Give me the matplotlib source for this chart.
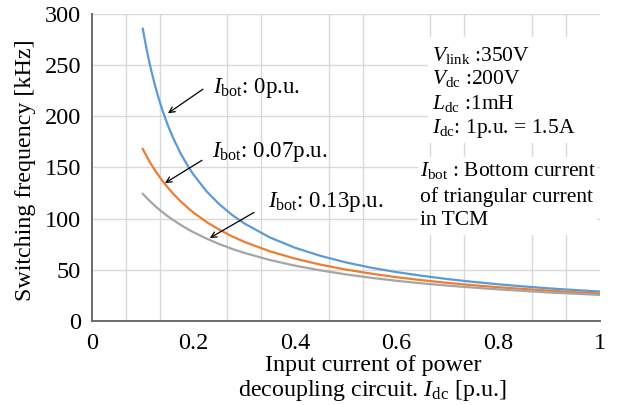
import matplotlib
matplotlib.use("Agg")
import matplotlib.pyplot as plt
from matplotlib.patches import Rectangle
from matplotlib.ticker import MultipleLocator

SERIF = 'Liberation Serif'
plt.rcParams['font.family'] = 'serif'
plt.rcParams['font.serif'] = [SERIF, 'DejaVu Serif']
plt.rcParams['mathtext.fontset'] = 'custom'
plt.rcParams['mathtext.rm'] = SERIF
plt.rcParams['mathtext.it'] = SERIF + ':italic'

# Data
idc = [0.10, 0.105, 0.11, 0.115, 0.12, 0.125, 0.13, 0.135, 0.14, 0.15, 0.16, 0.175,
       0.19, 0.20, 0.225, 0.25, 0.275, 0.30, 0.35, 0.40, 0.45, 0.50, 0.55, 0.60,
       0.65, 0.70, 0.75, 0.80, 0.85, 0.90, 0.95, 1.00]
f_bot0 = [285.7, 272.1, 259.7, 248.4, 238.1, 228.6, 219.8, 211.6, 204.1, 190.5, 178.6, 163.3,
          150.4, 142.9, 127.0, 114.3, 103.9, 95.2, 81.6, 71.4, 63.5, 57.1, 51.9, 47.6,
          44.0, 40.8, 38.1, 35.7, 33.6, 31.7, 30.1, 28.6]
f_bot007 = [168.1, 163.3, 158.7, 154.4, 150.4, 146.5, 142.9, 139.4, 136.0, 129.9, 124.2, 116.6,
            109.9, 105.8, 96.8, 89.3, 82.8, 77.2, 68.0, 60.8, 54.9, 50.1, 46.1, 42.6,
            39.7, 37.1, 34.8, 32.8, 31.1, 29.5, 28.0, 26.7]
f_bot013 = [124.2, 121.6, 119.0, 116.6, 114.3, 112.0, 109.9, 107.8, 105.8, 102.0, 98.5, 93.7,
            89.3, 86.6, 80.5, 75.2, 70.5, 66.4, 59.5, 53.9, 49.3, 45.4, 42.0, 39.1,
            36.6, 34.4, 32.5, 30.7, 29.2, 27.7, 26.5, 25.3]
series_labels = [r"$I_{\mathrm{bot}}$: 0p.u.", r"$I_{\mathrm{bot}}$: 0.07p.u.",
                 r"$I_{\mathrm{bot}}$: 0.13p.u."]
colors = ["#5B9BD5", "#ED7D31", "#A5A5A5"]
xticks = [0, 0.2, 0.4, 0.6, 0.8, 1]
xticklabels = ["0", "0.2", "0.4", "0.6", "0.8", "1"]
yticks = [0, 50, 100, 150, 200, 250, 300]

fig = plt.figure(figsize=(6.26, 4.05), dpi=100)
ax = fig.add_axes([0.147, 0.208, 0.811, 0.757])

ax.set_xlim(0, 1)
ax.set_ylim(0, 300)
ax.xaxis.set_minor_locator(MultipleLocator(1/15))
ax.set_xticks(xticks)
ax.set_xticklabels(xticklabels, fontfamily=SERIF)
ax.set_yticks(yticks)
ax.set_yticklabels([str(v) for v in yticks], fontfamily=SERIF)
ax.grid(which='major', axis='y', color='#d9d9d9', lw=1.0, zorder=0)
ax.grid(which='minor', axis='x', color='#d9d9d9', lw=1.0, zorder=0)
ax.tick_params(which='both', length=0, labelsize=17.5)
ax.tick_params(axis='y', pad=8)
ax.tick_params(axis='x', pad=9)
for s in ['top', 'right']:
    ax.spines[s].set_visible(False)
for s in ['left', 'bottom']:
    ax.spines[s].set_color('#6b6b6b')
    ax.spines[s].set_linewidth(1.4)
ax.set_axisbelow(True)

for ys, c in zip([f_bot0, f_bot007, f_bot013], colors):
    ax.plot(idc, ys, color=c, lw=1.6, zorder=3, solid_joinstyle='round')

# white background boxes for text blocks
ax.add_patch(Rectangle((0.661, 0.579), 0.345, 0.346, transform=ax.transAxes,
                       facecolor='white', edgecolor='none', zorder=1, clip_on=False))
ax.add_patch(Rectangle((0.642, 0.279), 0.352, 0.255, transform=ax.transAxes,
                       facecolor='white', edgecolor='none', zorder=1, clip_on=False))

# curve labels with arrows
label_pos = [(0.238, 228), (0.236, 165), (0.346, 116)]
arrow_tail = [(0.2185, 226.6), (0.2165, 157), (0.319, 106)]
arrow_head = [(0.1496, 203), (0.1437, 134.7), (0.232, 81)]
for lab, lp, t, h in zip(series_labels, label_pos, arrow_tail, arrow_head):
    ax.text(lp[0], lp[1], lab, fontsize=16.5, va='center', ha='left', zorder=4)
    ax.annotate("", xy=h, xytext=t,
                arrowprops=dict(arrowstyle='->', color='black', lw=0.9,
                                shrinkA=0, shrinkB=0), zorder=4)

info1 = [r"$V_{\mathrm{link}}$ :350V", r"$V_{\mathrm{dc}}$ :200V",
         r"$L_{\mathrm{dc}}$ :1mH", r"$I_{\mathrm{dc}}$: 1p.u. = 1.5A"]
info1_y = [260, 237, 213, 188]
for t, y in zip(info1, info1_y):
    ax.text(0.669, y, t, fontsize=15.5, va='center', ha='left', zorder=4)

info2 = [r"$I_{\mathrm{bot}}$ : Bottom current", "of triangular current", "in TCM"]
info2_y = [147, 121, 98]
for t, y in zip(info2, info2_y):
    ax.text(0.646, y, t, fontsize=15.5, va='center', ha='left', zorder=4,
            fontfamily=SERIF)

ax.set_ylabel("Switching frequency [kHz]", fontsize=17.3, fontfamily=SERIF)
ax.yaxis.set_label_coords(-0.11, 0.49, transform=ax.transAxes)
ax.set_xlabel("Input current of power\ndecoupling circuit. $I_{\\mathrm{dc}}$ [p.u.]",
              fontsize=17.3, linespacing=1.08, fontfamily=SERIF)
ax.xaxis.set_label_coords(0.553, -0.113, transform=ax.transAxes)
ax.xaxis.label.set_va('top')

fig.savefig("out.png", dpi=100)
